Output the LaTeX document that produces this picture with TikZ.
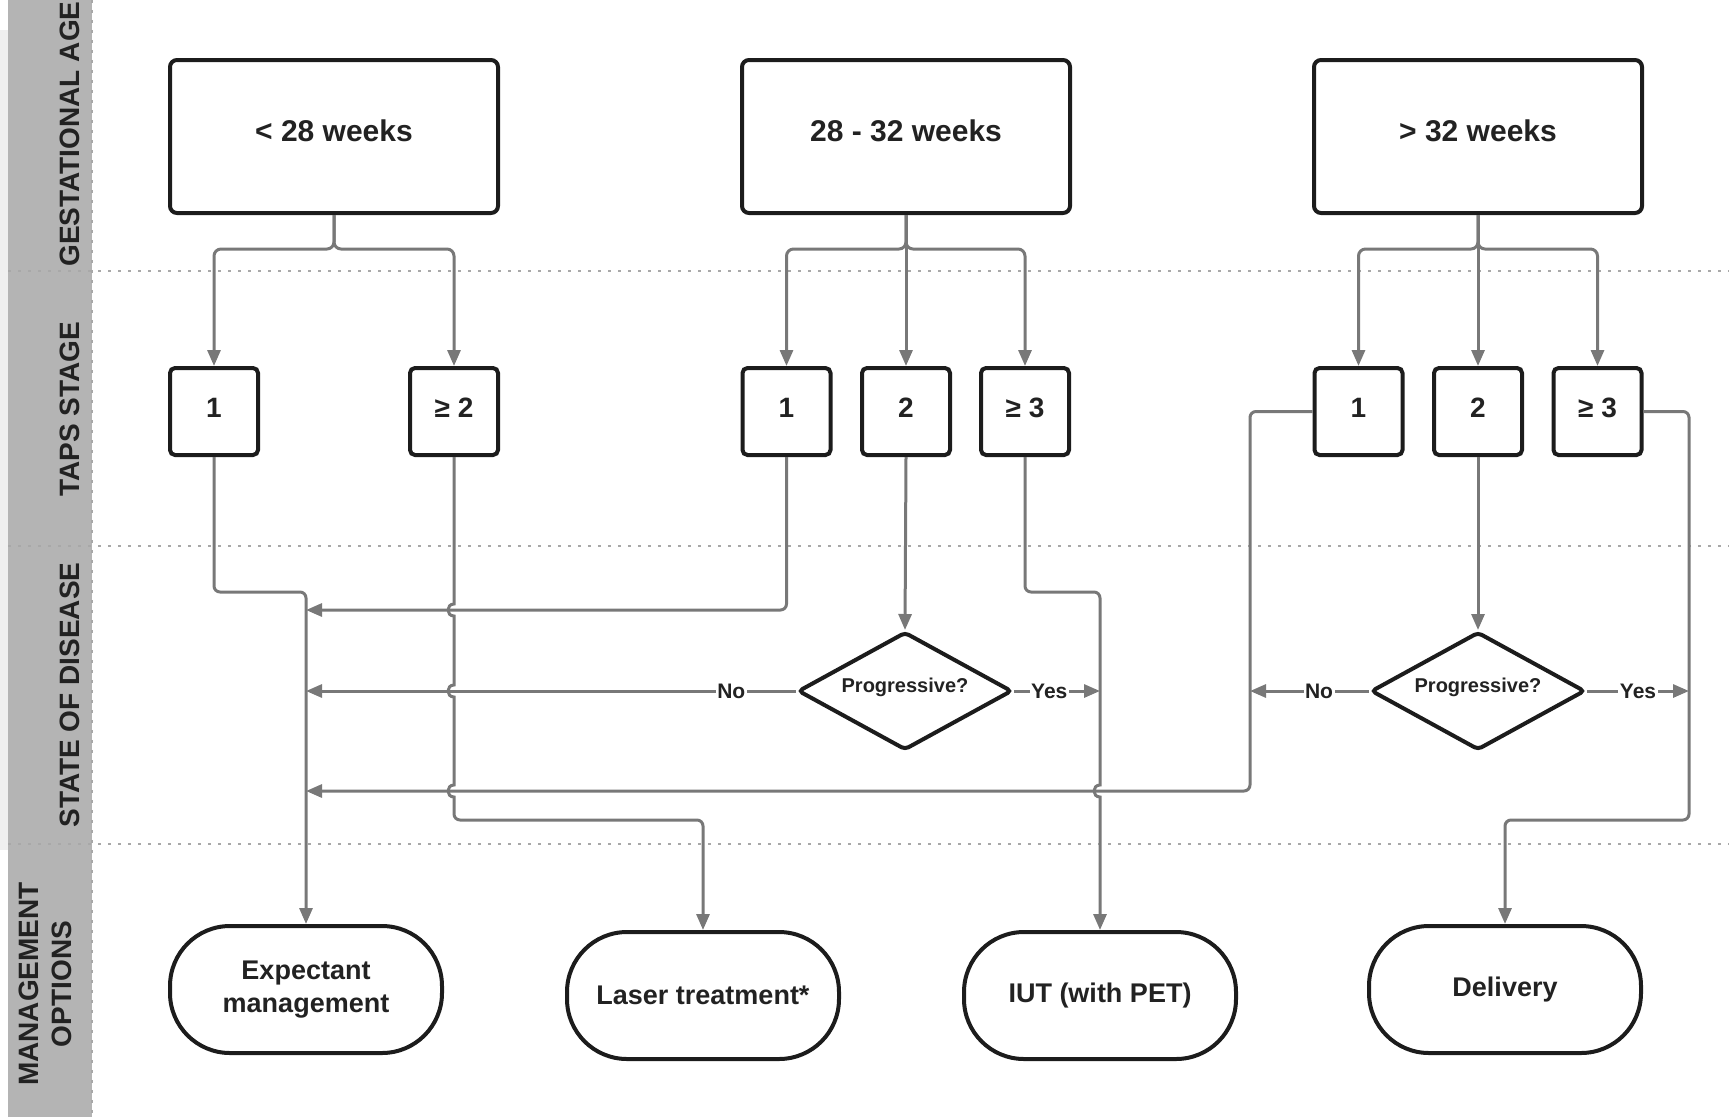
\documentclass[tikz,border=0pt]{standalone}
\usepackage{fontspec}
\setmainfont{Liberation Sans}
\usetikzlibrary{shapes.geometric,arrows.meta}
\definecolor{bandgray}{HTML}{B4B4B4}
\definecolor{lightstrip}{HTML}{EFEFEF}
\definecolor{conngray}{HTML}{787878}
\definecolor{dotgray}{HTML}{A8A8A8}
\definecolor{boxline}{HTML}{1C1C1C}
\definecolor{txt}{HTML}{222222}
\begin{document}
\begin{tikzpicture}[x=1pt,y=-1pt,
  topbox/.style={draw=boxline, line width=4pt, rounded corners=7pt, minimum width=328pt, minimum height=153pt, inner sep=0pt, text depth=12pt, font=\fontsize{30}{36}\selectfont\bfseries, text=txt},
  stagebox/.style={draw=boxline, line width=4pt, rounded corners=5pt, minimum width=88pt, minimum height=87pt, inner sep=0pt, text depth=7pt, font=\fontsize{28}{32}\selectfont\bfseries, text=txt},
  decision/.style={diamond, aspect=1.8, draw=boxline, line width=4pt, rounded corners=4pt, minimum width=214pt, minimum height=118pt, inner sep=0pt, text depth=12pt, font=\fontsize{20}{24}\selectfont\bfseries, text=txt},
  term/.style={draw=boxline, line width=4pt, rounded corners=60pt, minimum width=272pt, minimum height=127pt, inner sep=0pt, align=center, font=\fontsize{27}{33}\selectfont\bfseries, text=txt},
  conn/.style={draw=conngray, line width=3pt},
  arr/.style={-{Triangle[length=16pt,width=13pt]}},
  lab/.style={fill=white, inner sep=1.5pt, font=\fontsize{21}{24}\selectfont\bfseries, text=txt},
  sidelab/.style={rotate=90, align=center, font=\fontsize{28}{33}\selectfont\bfseries, text=txt},
  rowsep/.style={draw=dotgray, line width=2.5pt, dash pattern=on 2.5pt off 7.5pt}
]
\useasboundingbox (0,0) rectangle (1729,1117);
% background band
\fill[lightstrip] (0,30) rectangle (8,850);
\fill[bandgray] (8,0) rectangle (92,1117);
\draw[rowsep] (92,0) -- (92,1117);
\draw[rowsep] (8,271) -- (1729,271);
\draw[rowsep] (8,546) -- (1729,546);
\draw[rowsep] (8,844) -- (1729,844);

% side labels
\node[sidelab] (lga) at (70,134) {GESTATIONAL AGE};
\node[sidelab] (lts) at (70,409) {TAPS STAGE};
\node[sidelab] (lsd) at (70,695) {STATE OF DISEASE};
\node[sidelab] (lmo) at (45,984) {MANAGEMENT\\OPTIONS};

% gestational age boxes
\node[topbox] (g1) at (334,136.5) {< 28 weeks};
\node[topbox] (g2) at (906,136.5) {28 - 32 weeks};
\node[topbox] (g3) at (1478,136.5) {> 32 weeks};

% stage boxes
\node[stagebox] (s11) at (214,411.5) {1};
\node[stagebox] (s12) at (454,411.5) {≥ 2};
\node[stagebox] (s21) at (786.5,411.5) {1};
\node[stagebox] (s22) at (906,411.5) {2};
\node[stagebox] (s23) at (1025,411.5) {≥ 3};
\node[stagebox] (s31) at (1358.5,411.5) {1};
\node[stagebox] (s32) at (1478,411.5) {2};
\node[stagebox] (s33) at (1597.5,411.5) {≥ 3};

% decisions
\node[decision] (d1) at (905,691) {Progressive?};
\node[decision] (d2) at (1478,691) {Progressive?};

% terminals
\node[term] (exp) at (306,989.5) {Expectant\\management};
\node[term] (las) at (703,995.5) {Laser treatment*};
\node[term] (iut) at (1100,995.5) {IUT (with PET)};
\node[term] (del) at (1505,989.5) {Delivery};

% top branches
\draw[conn,arr,rounded corners=7pt] (g1.south) -- (334,249) -| (s11.north);
\draw[conn,arr,rounded corners=7pt] (g1.south) -- (334,249) -| (s12.north);
\draw[conn,arr,rounded corners=7pt] (g2.south) -- (906,249) -| (s21.north);
\draw[conn,arr] (g2.south) -- (s22.north);
\draw[conn,arr,rounded corners=7pt] (g2.south) -- (906,249) -| (s23.north);
\draw[conn,arr,rounded corners=7pt] (g3.south) -- (1478,249) -| (s31.north);
\draw[conn,arr] (g3.south) -- (s32.north);
\draw[conn,arr,rounded corners=7pt] (g3.south) -- (1478,249) -| (s33.north);

% < 28 weeks
\draw[conn,arr,rounded corners=6pt] (s11.south) -- (214,592) -- (306,592) -- (exp.north);
\draw[conn,arr] (s12.south) -- (454,604) .. controls (446,604) and (446,616) .. (454,616)
  -- (454,685) .. controls (446,685) and (446,697) .. (454,697)
  -- (454,785) .. controls (446,785) and (446,797) .. (454,797)
  [rounded corners=6pt] -- (454,820) -- (703,820) -- (las.north);

% 28 - 32 weeks
\draw[conn,arr,rounded corners=6pt] (s21.south) -- (786.5,610) -- (306,610);
\draw[conn,arr] (s22.south) -- (d1.north);
\draw[conn,arr] (d1.west) -- node[lab,pos=0.132] (no1) {No} (306,691);
\draw[conn,arr] (d1.east) -- node[lab,pos=0.41] (yes1) {Yes} (1100,691);
\draw[conn,arr,rounded corners=6pt] (s23.south) -- (1025,592) -- (1100,592) -- (1100,700)
  [sharp corners] -- (1100,785) .. controls (1092,785) and (1092,797) .. (1100,797) -- (iut.north);

% > 32 weeks
\draw[conn,arr,rounded corners=6pt] (s31.west) -- (1250,411.5) -- (1250,791) -- (306,791);
\draw[conn,arr] (s32.south) -- (d2.north);
\draw[conn,arr] (d2.west) -- node[lab,pos=0.42] (no2) {No} (1250,691);
\draw[conn,arr] (d2.east) -- node[lab,pos=0.5] (yes2) {Yes} (1689,691);
\draw[conn,arr,rounded corners=6pt] (s33.east) -- (1689,411.5) -- (1689,820) -- (1505,820) -- (del.north);
\end{tikzpicture}
\end{document}
